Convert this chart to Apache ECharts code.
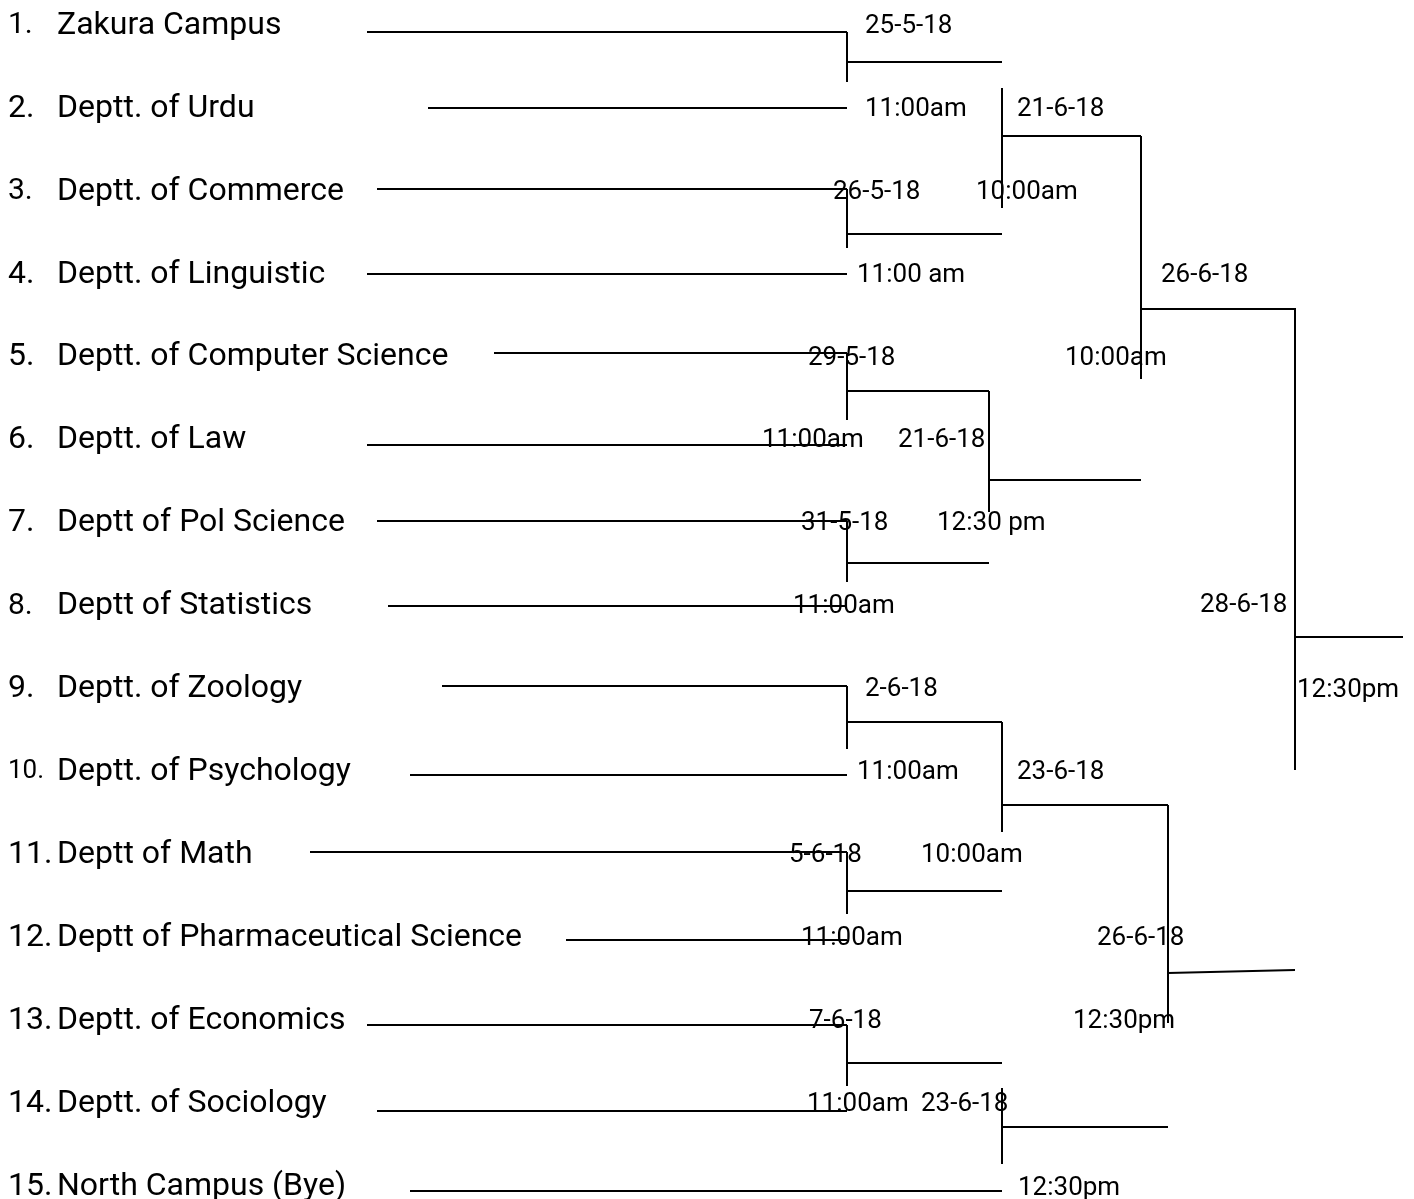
<!DOCTYPE html>
<html>
<head>
<meta charset="utf-8">
<script src="https://cdn.jsdelivr.net/npm/echarts@6/dist/echarts.min.js"></script>
<style>
html,body{margin:0;padding:0;background:#fff;}
#chart{width:1414px;height:1199px;}
</style>
</head>
<body>
<div id="chart"></div>
<script>
// ---------------- DATA ----------------
const seeds = ['1.','2.','3.','4.','5.','6.','7.','8.','9.','10.','11.','12.','13.','14.','15.'];
const teams = [
  'Zakura Campus','Deptt. of Urdu','Deptt. of Commerce','Deptt. of Linguistic',
  'Deptt. of Computer Science','Deptt. of Law','Deptt of Pol Science','Deptt of Statistics',
  'Deptt. of Zoology','Deptt. of Psychology','Deptt of Math','Deptt of Pharmaceutical Science',
  'Deptt. of Economics','Deptt. of Sociology','North Campus (Bye)'
];
const round1Dates = ['25-5-18','26-5-18','29-5-18','31-5-18','2-6-18','5-6-18','7-6-18'];
const round1Times = ['11:00am','11:00 am','11:00am','11:00am','11:00am','11:00am','11:00am'];
const round2Dates = ['21-6-18','21-6-18','23-6-18','23-6-18'];
const round2Times = ['10:00am','12:30 pm','10:00am','12:30pm'];
const round3Dates = ['26-6-18','26-6-18'];
const round3Times = ['10:00am','12:30pm'];
const finalDates = ['28-6-18'];
const finalTimes = ['12:30pm'];

// ---------------- LAYOUT (chart units, axes span the canvas) ----------------
const W = 1414, H = 1199;
const rowY = i => 23.8 + 82.93 * i;
const seedSize = [30,32,30,32,32,32,32,30,32,26,32,32,32,32,32];
// team lead lines: [startX, y, endX]
const teamLines = [
  [367,32,847],[428,108,847],[377,189,847],[367,274,847],[494,353,847],
  [367,445,847],[377,521,847],[388,606,847],[442,686,847],[410,775,847],
  [310,852,847],[566,940,847],[367,1025,847],[377,1111,847],[410,1191,1002]
];
// match brackets: x, top, bottom, outY start, outY end, outEndX
const r1Geo = [
  [847,32,82,62,62,1002],[847,189,248,234,234,1002],[847,353,420,391,391,989],
  [847,521,582,563,563,989],[847,686,749,722,722,1002],[847,852,914,891,891,1002],
  [847,1025,1086,1063,1063,1002]
];
const r2Geo = [
  [1002,88,208,136,136,1141],[989,391,512,480,480,1141],
  [1002,722,832,805,805,1168],[1002,1088,1164,1127,1127,1168]
];
const r3Geo = [[1141,136,379,309,309,1295],[1168,805,1023,973,970,1295]];
const fGeo = [[1295,308,770,637,637,1403]];
// label anchors: [leftX, capCenterY]
const r1DatePos = [[865,25],[833,191],[808,357],[801,522],[865,688],[789,854],[809,1020]];
const r1TimePos = [[865,108],[857,274],[762,439],[793,605],[857,771],[801,937],[807,1103]];
const r2DatePos = [[1017,108],[898,439],[1017,771],[921,1103]];
const r2TimePos = [[976,191],[937,522],[921,854],[1018,1187]];
const r3DatePos = [[1161,274],[1097,937]];
const r3TimePos = [[1065,357],[1073,1020]];
const fDatePos = [[1200,604]];
const fTimePos = [[1297,689]];

// ---------------- BUILD ----------------
const segs = [];
teamLines.forEach(t => segs.push([[t[0], t[1]], [t[2], t[1]]]));
[r1Geo, r2Geo, r3Geo, fGeo].forEach(g => g.forEach(m => {
  segs.push([[m[0], m[1]], [m[0], m[2]]]);
  segs.push([[m[0], m[3]], [m[5], m[4]]]);
}));

const FONT = 'Roboto, "Noto Sans", sans-serif';
const textItems = [];
teams.forEach((t, i) => {
  textItems.push({ value: [8, rowY(i)], text: seeds[i], size: seedSize[i] });
  textItems.push({ value: [57, rowY(i)], text: t, size: 32 });
});
function addLabels(texts, pos) {
  texts.forEach((t, i) => textItems.push({ value: pos[i], text: t, size: 26 }));
}
addLabels(round1Dates, r1DatePos); addLabels(round1Times, r1TimePos);
addLabels(round2Dates, r2DatePos); addLabels(round2Times, r2TimePos);
addLabels(round3Dates, r3DatePos); addLabels(round3Times, r3TimePos);
addLabels(finalDates, fDatePos); addLabels(finalTimes, fTimePos);

const chart = echarts.init(document.getElementById('chart'), null, { renderer: 'canvas' });
chart.setOption({
  backgroundColor: '#ffffff',
  animation: false,
  grid: { left: 0, right: 0, top: 0, bottom: 0 },
  xAxis: { type: 'value', min: 0, max: W, show: false },
  yAxis: { type: 'value', min: 0, max: H, inverse: true, show: false },
  series: [
    {
      type: 'lines',
      coordinateSystem: 'cartesian2d',
      polyline: true,
      silent: true,
      lineStyle: { color: '#000', width: 2, opacity: 1, cap: 'butt' },
      data: segs.map(s => ({ coords: s }))
    },
    {
      type: 'custom',
      coordinateSystem: 'cartesian2d',
      silent: true,
      data: textItems.map(t => t.value),
      renderItem: function (params, api) {
        const item = textItems[params.dataIndex];
        const p = api.coord([api.value(0), api.value(1)]);
        return {
          type: 'text',
          style: {
            text: item.text,
            x: p[0],
            y: p[1] + 0.06 * item.size,
            fill: '#000',
            font: item.size + 'px ' + FONT,
            align: 'left',
            verticalAlign: 'middle'
          }
        };
      }
    }
  ]
});
</script>
</body>
</html>
